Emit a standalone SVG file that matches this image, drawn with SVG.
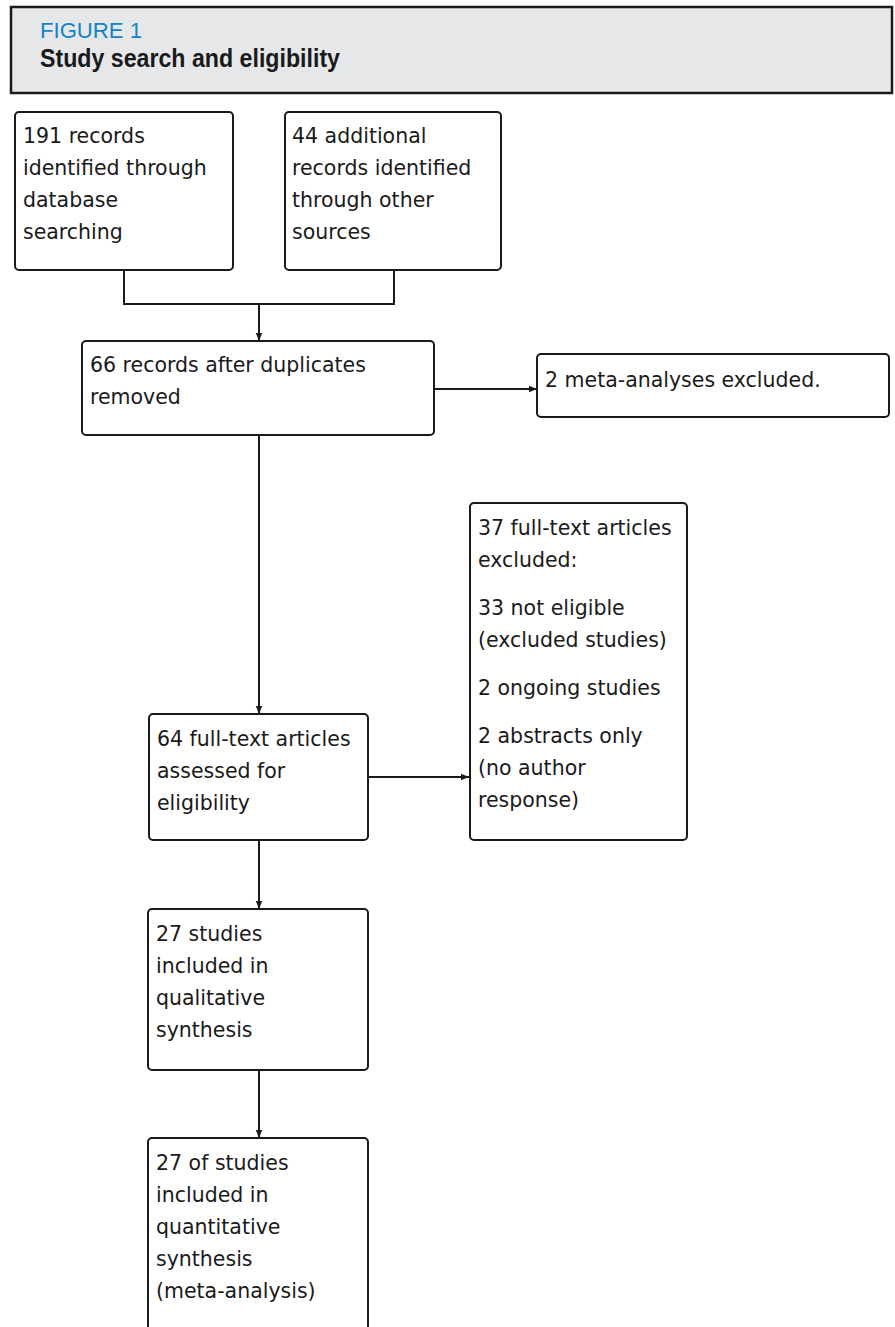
<svg xmlns="http://www.w3.org/2000/svg" width="895" height="1327" viewBox="0 0 895 1327">
<style>
.box{fill:#fff;stroke:#1a1a1a;stroke-width:2}
.t{font-family:"DejaVu Sans",Verdana,sans-serif;font-size:20.5px;fill:#1a1a1a}
.ln{fill:none;stroke:#1a1a1a;stroke-width:2}
</style>
<defs>
<marker id="ah" viewBox="0 0 10 10" refX="10" refY="5" markerWidth="4" markerHeight="4" orient="auto" markerUnits="strokeWidth">
<path d="M0,1 L10,5 L0,9 z" fill="#1a1a1a"/>
</marker>
</defs>
<rect width="895" height="1327" fill="#fff"/>
<g id="header">
<rect x="11" y="7" width="881" height="86" fill="#e6e7e9" stroke="#1a1a1a" stroke-width="2.5"/>
<text x="40" y="38" font-family="Liberation Sans,Arial,sans-serif" font-size="22" fill="#1283c6" textLength="102" lengthAdjust="spacingAndGlyphs">FIGURE 1</text>
<text x="40" y="67" font-family="Liberation Sans,Arial,sans-serif" font-size="26" font-weight="bold" fill="#1a1a1a" textLength="300" lengthAdjust="spacingAndGlyphs">Study search and eligibility</text>
</g>
<g id="connectors">
<path class="ln" d="M124,270 V304 H394 V270"/>
<path class="ln" d="M259,304 V341" marker-end="url(#ah)"/>
<path class="ln" d="M434,389 H537" marker-end="url(#ah)"/>
<path class="ln" d="M259,435 V714" marker-end="url(#ah)"/>
<path class="ln" d="M368,777 H469" marker-end="url(#ah)"/>
<path class="ln" d="M259,840 V909" marker-end="url(#ah)"/>
<path class="ln" d="M259,1070 V1138" marker-end="url(#ah)"/>
</g>
<g id="n1">
<rect class="box" x="15" y="112" width="218" height="158" rx="4"/>
<text class="t"><tspan x="23" y="143">191 records</tspan><tspan x="23" y="175">identified through</tspan><tspan x="23" y="207">database</tspan><tspan x="23" y="239">searching</tspan></text>
</g>
<g id="n2">
<rect class="box" x="285" y="112" width="216" height="158" rx="4"/>
<text class="t"><tspan x="292" y="143">44 additional</tspan><tspan x="292" y="175">records identified</tspan><tspan x="292" y="207">through other</tspan><tspan x="292" y="239">sources</tspan></text>
</g>
<g id="n3">
<rect class="box" x="82" y="341" width="352" height="94" rx="4"/>
<text class="t"><tspan x="90" y="372">66 records after duplicates</tspan><tspan x="90" y="404">removed</tspan></text>
</g>
<g id="n4">
<rect class="box" x="537" y="354" width="352" height="63" rx="4"/>
<text class="t" x="545" y="387">2 meta-analyses excluded.</text>
</g>
<g id="n5">
<rect class="box" x="149" y="714" width="219" height="126" rx="4"/>
<text class="t"><tspan x="157" y="746">64 full-text articles</tspan><tspan x="157" y="778">assessed for</tspan><tspan x="157" y="810">eligibility</tspan></text>
</g>
<g id="n6">
<rect class="box" x="470" y="503" width="217" height="337" rx="4"/>
<text class="t"><tspan x="478" y="535">37 full-text articles</tspan><tspan x="478" y="567">excluded:</tspan><tspan x="478" y="615">33 not eligible</tspan><tspan x="478" y="647">(excluded studies)</tspan><tspan x="478" y="695">2 ongoing studies</tspan><tspan x="478" y="743">2 abstracts only</tspan><tspan x="478" y="775">(no author</tspan><tspan x="478" y="807">response)</tspan></text>
</g>
<g id="n7">
<rect class="box" x="148" y="909" width="220" height="161" rx="4"/>
<text class="t"><tspan x="156" y="941">27 studies</tspan><tspan x="156" y="973">included in</tspan><tspan x="156" y="1005">qualitative</tspan><tspan x="156" y="1037">synthesis</tspan></text>
</g>
<g id="n8">
<rect class="box" x="148" y="1138" width="220" height="200" rx="4"/>
<text class="t"><tspan x="156" y="1170">27 of studies</tspan><tspan x="156" y="1202">included in</tspan><tspan x="156" y="1234">quantitative</tspan><tspan x="156" y="1266">synthesis</tspan><tspan x="156" y="1298">(meta-analysis)</tspan></text>
</g>
</svg>
